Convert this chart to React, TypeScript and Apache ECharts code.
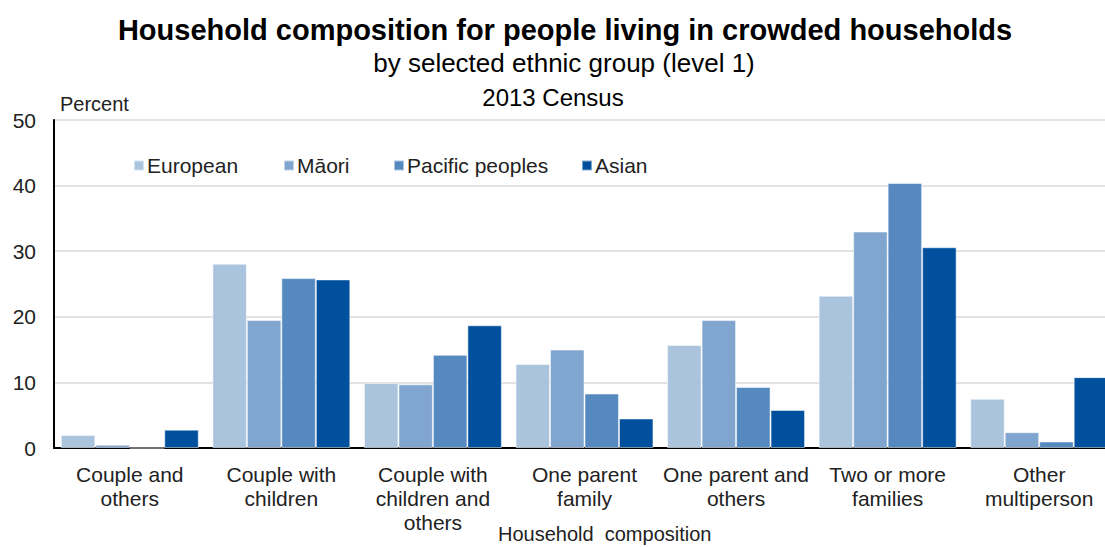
import React, { useEffect, useRef } from "react";
import * as echarts from "echarts";

const categories = [
  "Couple and\nothers",
  "Couple with\nchildren",
  "Couple with\nchildren and\nothers",
  "One parent\nfamily",
  "One parent and\nothers",
  "Two or more\nfamilies",
  "Other\nmultiperson",
];
const seriesNames = ["European", "Māori", "Pacific peoples", "Asian"];
const european = [2.0, 28.1, 9.9, 12.8, 15.7, 23.2, 7.5];
const maori = [0.5, 19.5, 9.7, 15.0, 19.5, 33.0, 2.4];
const pacific = [0, 25.9, 14.2, 8.3, 9.3, 40.4, 1.0];
const asian = [2.8, 25.7, 18.7, 4.5, 5.8, 30.6, 10.8];
const colors = ["#AAC4DE", "#80A6CF", "#5589C0", "#00509E"];
const yTicks = [0, 10, 20, 30, 40, 50];
const legendLefts = [128, 278, 388, 576];

const FONT = "'Liberation Sans', Arial, sans-serif";

export default function App() {
  const ref = useRef<HTMLDivElement>(null);
  useEffect(() => {
    if (!ref.current) return;
    const chart = echarts.init(ref.current, null, { renderer: "svg" });
    const data = [european, maori, pacific, asian];
    chart.setOption({
      animation: false,
      textStyle: { fontFamily: FONT },
      title: [
        {
          text: "Household composition for people living in crowded households",
          left: 560,
          textAlign: "center",
          top: 10,
          textStyle: { fontSize: 29, fontWeight: "bold", color: "#000", fontFamily: FONT },
        },
        {
          text: "by selected ethnic group (level 1)",
          left: 559,
          textAlign: "center",
          top: 45,
          textStyle: { fontSize: 26, fontWeight: "normal", color: "#000", fontFamily: FONT },
        },
        {
          text: "2013 Census",
          left: 548,
          textAlign: "center",
          top: 80,
          textStyle: { fontSize: 24, fontWeight: "normal", color: "#000", fontFamily: FONT },
        },
      ],
      legend: seriesNames.map((name, i) => ({
        left: legendLefts[i],
        top: 150,
        itemWidth: 10,
        itemHeight: 10,
        icon: "rect",
        data: [name],
        textStyle: { fontSize: 21, color: "#222", fontFamily: FONT, padding: [0, 0, 0, -2] },
      })),
      grid: {
        left: 54,
        width: 1061,
        top: 120,
        bottom: 99,
        containLabel: false,
        outerBoundsMode: "none",
      },
      xAxis: {
        type: "category",
        data: categories,
        axisLine: { show: true, lineStyle: { color: "#000", width: 2 } },
        axisTick: { show: false },
        axisLabel: {
          fontSize: 21,
          color: "#222",
          lineHeight: 24,
          margin: 14,
          interval: 0,
          fontFamily: FONT,
        },
      },
      yAxis: {
        type: "value",
        min: yTicks[0],
        max: yTicks[yTicks.length - 1],
        interval: 10,
        axisLine: { show: true, lineStyle: { color: "#000", width: 2 } },
        axisTick: { show: false },
        axisLabel: { fontSize: 21, color: "#222", margin: 18, fontFamily: FONT },
        splitLine: { show: true, lineStyle: { color: "#D9D9D9", width: 1.5 } },
      },
      graphic: [
        {
          type: "text",
          left: 60,
          top: 94,
          style: { text: "Percent", fontSize: 20, fill: "#222", fontFamily: FONT },
        },
        {
          type: "text",
          left: 498,
          top: 524,
          style: { text: "Household  composition", fontSize: 20, fill: "#222", fontFamily: FONT },
        },
      ],
      series: seriesNames.map((name, i) => ({
        name,
        type: "bar",
        data: data[i],
        barGap: "0%",
        barCategoryGap: "9%",
        itemStyle: { color: colors[i], borderColor: "rgba(255,255,255,0.5)", borderWidth: 1 },
      })),
    });
    return () => chart.dispose();
  }, []);
  return (
    <div
      ref={ref}
      style={{ position: "absolute", left: 0, top: 0, width: 1105, height: 547, background: "#fff" }}
    />
  );
}
